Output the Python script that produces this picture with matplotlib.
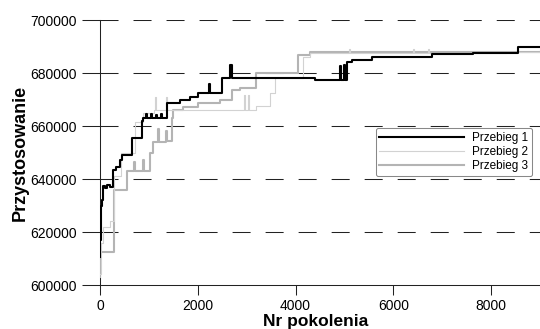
import matplotlib
matplotlib.use("Agg")
import matplotlib.pyplot as plt

plt.rcParams["font.family"] = ["Liberation Sans", "DejaVu Sans"]

# Przebieg 1 - najlepsze przystosowanie w kolejnych pokoleniach
gen1 = [0, 10, 20, 40, 60, 100, 140, 200, 270, 330,
        400, 460, 650, 860, 880, 950, 970, 1050, 1070, 1150,
        1170, 1250, 1270, 1370, 1630, 1850, 2000, 2230, 2250, 2500,
        2660, 2690, 4400, 4900, 4920, 5000, 5020, 5060, 5150, 5570,
        6800, 7620, 8550, 9000]
fit1 = [610700, 617000, 630000, 632000, 637400, 636500, 637800, 637000, 643500, 644600,
        647000, 649000, 655600, 662000, 663000, 664400, 663000, 664400, 663000, 664200,
        663000, 664400, 663000, 668500, 670000, 671000, 672500, 676000, 672500, 678000,
        683000, 678000, 677200, 682500, 677200, 683000, 677200, 684000, 685000, 686000,
        687000, 687500, 689800, 689800]

# Przebieg 2
gen2 = [0, 30, 60, 200, 280, 420, 720, 880, 1100, 1130,
        1150, 1350, 1370, 1600, 2950, 2970, 3020, 3040, 3200, 3480,
        3580, 4150, 4300, 5100, 5120, 6400, 6420, 6700, 6720, 8300,
        9000]
fit2 = [604000, 616000, 622000, 624000, 641000, 650000, 661500, 665000, 666000, 671000,
        666000, 671000, 666000, 666000, 671700, 666000, 671700, 666000, 667500, 672500,
        678000, 686000, 687500, 689000, 687500, 689000, 687500, 689000, 687500, 688000,
        688500]

# Przebieg 3
gen3 = [0, 10, 280, 550, 700, 720, 880, 900, 1020, 1090,
        1180, 1200, 1350, 1370, 1470, 1500, 1700, 2000, 2450, 2700,
        2860, 3200, 4050, 4300, 9000]
fit3 = [603000, 612500, 636000, 643000, 646500, 643000, 647000, 643000, 650000, 654000,
        659000, 654000, 658000, 654500, 663000, 666000, 667000, 668700, 670000, 673600,
        674400, 680000, 686800, 688000, 688000]

labels = ["Przebieg 1", "Przebieg 2", "Przebieg 3"]
y_ticks = [600000, 620000, 640000, 660000, 680000, 700000]
x_ticks = [0, 2000, 4000, 6000, 8000]

fig = plt.figure(figsize=(5.4, 3.29), dpi=100)
ax = fig.add_axes([100 / 540, 1 - 285 / 329, 440 / 540, 265 / 329])

# kolejnosc rysowania: najjasniejsze pod spodem, czarny na wierzchu
l3, = ax.plot(gen3, fit3, drawstyle="steps-post", color="#b4b4b4", lw=1.5, zorder=3)
l2, = ax.plot(gen2, fit2, drawstyle="steps-post", color="#d2d2d2", lw=0.8, zorder=4)
l1, = ax.plot(gen1, fit1, drawstyle="steps-post", color="black", lw=1.5, zorder=5)

ax.set_xlim(0, 9000)
ax.set_ylim(600000, 700000)
ax.set_xticks(x_ticks)
ax.set_yticks(y_ticks)

# przerywane linie siatki poziomej
for yv in y_ticks[1:]:
    ax.axhline(yv, color="#222222", lw=0.75, linestyle=(0, (17.3, 14.4)), zorder=1)

for s in ["top", "right"]:
    ax.spines[s].set_visible(False)
for s in ["left", "bottom"]:
    ax.spines[s].set_linewidth(0.75)
    ax.spines[s].set_color("#222222")

ax.tick_params(axis="y", direction="out", length=13, width=0.75, color="#222222",
               labelsize=10, pad=3.5)
ax.tick_params(axis="x", direction="out", length=7, width=0.75, color="#222222",
               labelsize=10, pad=3)

fig.text(20 / 540, 1 - 153 / 329, "Przystosowanie", rotation=90, ha="center",
         va="center", fontsize=13, fontweight="bold")
fig.text(316 / 540, 3 / 329, "Nr pokolenia", ha="center", va="baseline",
         fontsize=12.5, fontweight="bold")

leg = ax.legend([l1, l2, l3], labels, loc="upper right",
                bbox_to_anchor=(0.982, 0.592), borderaxespad=0, fontsize=8.5,
                handlelength=7.2, handletextpad=0.7, labelspacing=0.2,
                borderpad=0.3, fancybox=True, framealpha=1, edgecolor="#888888")
leg.get_frame().set_linewidth(0.75)
leg.set_zorder(10)

fig.savefig("out.png", dpi=100)
